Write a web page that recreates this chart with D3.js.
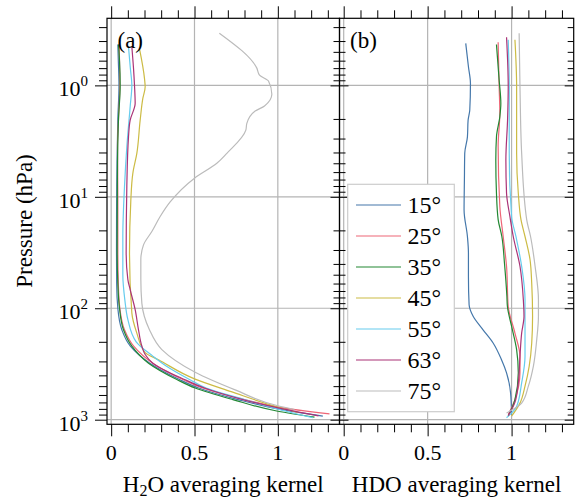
<!DOCTYPE html>
<html>
<head>
<meta charset="utf-8">
<script src="https://cdn.jsdelivr.net/npm/d3@7"></script>
<style>
  body { margin: 0; background: #fff; }
  svg { display: block; }
</style>
</head>
<body>
<svg id="chart" width="576" height="499" font-family="'Liberation Serif', 'DejaVu Serif', serif"></svg>
<script>
// Latitude bands and their colours
const latitudes = ["15°", "25°", "35°", "45°", "55°", "63°", "75°"];
const colors = ["#4477AA", "#EE6677", "#228833", "#CCBB44", "#66CCEE", "#AA3377", "#BBBBBB"];

// H2O averaging kernel rows: [pressure hPa, kernel value]
const h2o15 = [[0.43,0.040],[0.6,0.043],[1,0.047],[2,0.040],[5,0.035],[10,0.033],[30,0.032],[60,0.033],[100,0.040],[156,0.064],[219,0.115],[311,0.232],[436,0.41],[520,0.525],[660,0.76],[800,1.0],[930,1.27]];
const h2o25 = [[0.42,0.048],[0.6,0.050],[1,0.052],[2,0.044],[3.5,0.038],[10,0.040],[30,0.040],[60,0.043],[100,0.052],[156,0.080],[219,0.135],[311,0.25],[436,0.43],[520,0.55],[660,0.80],[770,1.0],[888,1.31]];
const h2o35 = [[0.43,0.044],[0.6,0.050],[1,0.054],[2,0.044],[5,0.038],[10,0.037],[30,0.036],[60,0.040],[100,0.050],[156,0.074],[219,0.124],[311,0.224],[436,0.394],[520,0.504],[660,0.73],[840,1.0],[950,1.22]];
const h2o45 = [[0.47,0.17],[0.87,0.20],[1.03,0.204],[1.31,0.19],[2.05,0.174],[4.07,0.154],[6.15,0.13],[10.7,0.118],[32,0.11],[110,0.124],[167,0.154],[250,0.204],[290,0.284],[430,0.50],[560,0.72],[770,1.0],[860,1.12]];
const h2o55 = [[0.45,0.104],[0.7,0.115],[1,0.124],[1.55,0.114],[3.55,0.094],[8.1,0.08],[22.7,0.07],[50,0.07],[84,0.082],[126,0.10],[200,0.15],[269,0.25],[330,0.33],[436,0.47],[520,0.57],[660,0.80],[840,1.05],[960,1.21]];
const h2o63 = [[0.45,0.124],[0.7,0.134],[1.0,0.14],[1.45,0.144],[2.05,0.114],[2.9,0.104],[8,0.094],[32,0.090],[55,0.100],[68,0.114],[103,0.144],[156,0.164],[218,0.184],[260,0.204],[311,0.25],[436,0.44],[520,0.56],[660,0.79],[800,1.03],[924,1.244]];
const h2o75 = [[0.34,0.649],[0.70,0.874],[0.81,0.89],[0.915,0.944],[1.2,0.964],[1.53,0.92],[1.7,0.864],[2.19,0.814],[2.52,0.808],[4.07,0.694],[5.0,0.634],[6.8,0.50],[11.1,0.354],[15,0.294],[20.5,0.244],[27,0.194],[36.7,0.178],[55,0.178],[90,0.184],[155,0.229],[235,0.304],[375,0.504],[540,0.744],[750,1.0],[810,1.10]];

// HDO averaging kernel rows: [pressure hPa, kernel value]
const hdo15 = [[0.42,0.727],[0.68,0.743],[0.96,0.755],[1.66,0.751],[2.05,0.741],[2.9,0.737],[4.07,0.721],[7.06,0.719],[13.1,0.717],[22.7,0.737],[32,0.743],[52,0.743],[93,0.747],[118,0.771],[156,0.83],[205,0.89],[290,0.94],[380,0.97],[575,0.994],[900,1.0]];
const hdo25 = [[0.41,0.92],[1.03,0.926],[1.78,0.93],[3.5,0.92],[12.2,0.93],[22.7,0.95],[42,0.97],[96,0.98],[167,1.02],[270,1.05],[380,1.05],[660,1.02],[900,0.98]];
const hdo35 = [[0.43,0.91],[0.9,0.926],[1.45,0.936],[1.91,0.93],[2.89,0.91],[4.67,0.906],[9.3,0.91],[16,0.92],[22.7,0.942],[40,0.958],[78,0.972],[96,0.975],[145,1.0],[235,1.03],[380,1.04],[660,1.02],[930,0.98]];
const hdo45 = [[0.39,1.02],[1.03,1.03],[4.07,1.03],[9.3,1.04],[16,1.056],[22.7,1.08],[36.7,1.11],[60,1.12],[118,1.125],[205,1.12],[330,1.105],[500,1.08],[710,1.05],[930,1.0]];
const hdo55 = [[0.39,0.98],[1.03,0.986],[4.07,0.986],[15,1.0],[22.7,1.026],[42,1.06],[84,1.08],[167,1.08],[270,1.08],[467,1.06],[760,1.03],[960,0.97]];
const hdo63 = [[0.37,0.97],[1.03,0.98],[2.05,0.976],[4.67,0.966],[9.3,0.97],[15,0.99],[22.7,1.01],[42,1.05],[84,1.07],[118,1.074],[167,1.06],[270,1.05],[467,1.04],[700,1.02],[920,0.98]];
const hdo75 = [[0.34,1.045],[1.03,1.05],[4.07,1.06],[16,1.09],[22.7,1.113],[42,1.14],[84,1.16],[118,1.16],[190,1.15],[330,1.13],[500,1.10],[710,1.06],[870,0.97]];

// Axis ticks
const kernelMajorTicks = [0, 0.5, 1];
const kernelTickLabels = ["0", "0.5", "1"];
const kernelMinorTicks = [0.1, 0.2, 0.3, 0.4, 0.6, 0.7, 0.8, 0.9, 1.1, 1.2, 1.3];
const pressureMajorTicks = [1, 10, 100, 1000];
const pressureExponents = ["0", "1", "2", "3"];

const h2oSeries = [h2o15, h2o25, h2o35, h2o45, h2o55, h2o63, h2o75];
const hdoSeries = [hdo15, hdo25, hdo35, hdo45, hdo55, hdo63, hdo75];

const serif = "'Liberation Serif', 'DejaVu Serif', serif";
const svg = d3.select("#chart");
const plotTop = 18.3, plotBottom = 424.3;
const gridColor = "#b4b4b4";

const y = d3.scaleLog().domain([0.25, 1100]).range([plotTop, plotBottom]);
const pressureMinorTicks = [];
[0.1, 1, 10, 100].forEach(dec => {
  for (let k = 2; k <= 9; k++) {
    const v = dec * k;
    if (v >= 0.25 && v <= 1100) pressureMinorTicks.push(v);
  }
});

const panels = [
  { x0: 107, x1: 339.5, series: h2oSeries, label: "(a)", title: ["H", "2", "O averaging kernel"], leftOut: true },
  { x0: 339.5, x1: 573.7, series: hdoSeries, label: "(b)", title: ["HDO averaging kernel"], leftOut: false }
];

panels.forEach((p, pi) => {
  const x = d3.scaleLinear().domain([-0.025, 1.37]).range([p.x0, p.x1]);
  const g = svg.append("g");

  // grid
  g.append("g").selectAll("line").data(kernelMajorTicks).join("line")
    .attr("x1", d => x(d)).attr("x2", d => x(d))
    .attr("y1", plotTop).attr("y2", plotBottom)
    .attr("stroke", gridColor).attr("stroke-width", 1.2);
  g.append("g").selectAll("line").data(pressureMajorTicks).join("line")
    .attr("x1", p.x0).attr("x2", p.x1)
    .attr("y1", d => y(d)).attr("y2", d => y(d))
    .attr("stroke", gridColor).attr("stroke-width", 1.2);

  // profiles
  const line = d3.line().x(d => x(d[1])).y(d => y(d[0])).curve(d3.curveMonotoneY);
  g.append("g").selectAll("path").data(p.series).join("path")
    .attr("d", d => line(d))
    .attr("fill", "none")
    .attr("stroke", (d, i) => colors[i])
    .attr("stroke-width", 1.2);

  // tick marks
  const tickAxis = (axis, values, size, tx, ty) => {
    const a = g.append("g").attr("transform", `translate(${tx},${ty})`)
      .call(axis.tickValues(values).tickSize(size).tickFormat(""));
    a.select(".domain").remove();
    a.selectAll(".tick line").attr("stroke", "#000").attr("stroke-width", 1);
  };
  tickAxis(d3.axisTop(x), kernelMajorTicks, 12, 0, plotTop);
  tickAxis(d3.axisTop(x), kernelMinorTicks, 8, 0, plotTop);
  tickAxis(d3.axisBottom(x), kernelMajorTicks, 12, 0, plotBottom);
  tickAxis(d3.axisBottom(x), kernelMinorTicks, 8, 0, plotBottom);
  tickAxis(d3.axisLeft(y), pressureMajorTicks, p.leftOut ? 12 : -9, p.x0, 0);
  tickAxis(d3.axisLeft(y), pressureMinorTicks, p.leftOut ? 8 : -6, p.x0, 0);
  tickAxis(d3.axisRight(y), pressureMajorTicks, -9, p.x1, 0);
  tickAxis(d3.axisRight(y), pressureMinorTicks, -6, p.x1, 0);

  // frame
  g.append("rect").attr("x", p.x0).attr("y", plotTop)
    .attr("width", p.x1 - p.x0).attr("height", plotBottom - plotTop)
    .attr("fill", "none").attr("stroke", "#000").attr("stroke-width", 1.2);

  // x tick labels
  g.append("g").selectAll("text").data(kernelMajorTicks).join("text")
    .attr("x", d => x(d)).attr("y", 460)
    .attr("text-anchor", "middle").attr("font-family", serif).attr("font-size", 22)
    .text((d, i) => kernelTickLabels[i]);

  // x title
  const t = g.append("text").attr("x", (p.x0 + p.x1) / 2).attr("y", 492)
    .attr("text-anchor", "middle").attr("font-family", serif).attr("font-size", 23);
  if (p.title.length === 3) {
    t.append("tspan").text(p.title[0]);
    t.append("tspan").attr("font-size", 16).attr("dy", 4).text(p.title[1]);
    t.append("tspan").attr("dy", -4).text(p.title[2]);
  } else {
    t.text(p.title[0]);
  }

  // panel letter
  g.append("text").attr("x", p.x0 + 10.5).attr("y", 48)
    .attr("font-family", serif).attr("font-size", 23).text(p.label);

  // y tick labels on the first panel
  if (pi === 0) {
    const yl = g.append("g").selectAll("text").data(pressureMajorTicks).join("text")
      .attr("x", 88).attr("y", d => y(d) + 11)
      .attr("text-anchor", "end").attr("font-family", serif).attr("font-size", 22);
    yl.append("tspan").text("10");
    yl.append("tspan").attr("font-size", 15).attr("dy", -10).text((d, i) => pressureExponents[i]);
  }

  // legend in the second panel
  if (pi === 1) {
    const lg = g.append("g");
    lg.append("rect").attr("x", 347.7).attr("y", 184.3).attr("width", 106.6).attr("height", 227.4)
      .attr("fill", "#fff").attr("stroke", "#cccccc").attr("stroke-width", 1.2);
    const rows = lg.selectAll("g.row").data(latitudes).join("g").attr("class", "row")
      .attr("transform", (d, i) => `translate(0,${205 + i * 31})`);
    rows.append("line").attr("x1", 356).attr("x2", 401).attr("y1", 0).attr("y2", 0)
      .attr("stroke", (d, i) => colors[i]).attr("stroke-width", 1.2);
    rows.append("text").attr("x", 407.5).attr("y", 8)
      .attr("font-family", serif).attr("font-size", 24).text(d => d);
  }
});

// y axis title
svg.append("text")
  .attr("transform", "translate(32,221) rotate(-90)")
  .attr("text-anchor", "middle").attr("font-family", serif).attr("font-size", 23)
  .text("Pressure (hPa)");
</script>
</body>
</html>
